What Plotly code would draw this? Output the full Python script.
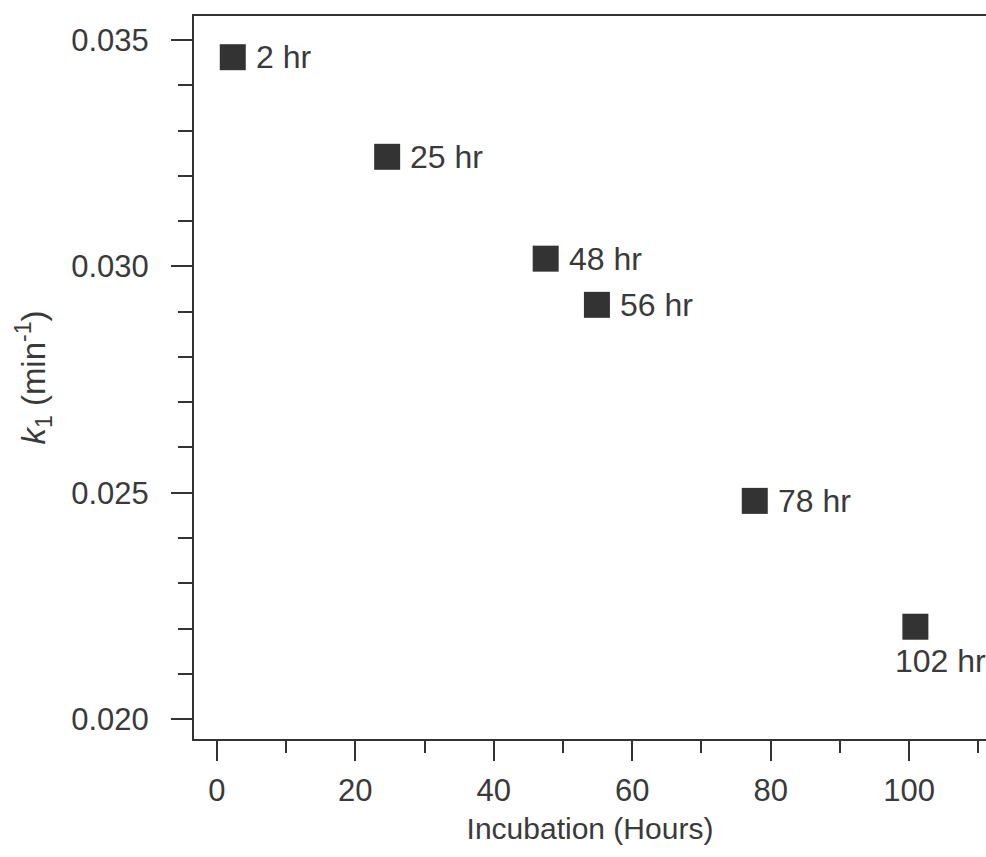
import plotly.graph_objects as go

hours = [2.3, 24.6, 47.5, 54.9, 77.7, 100.9]
k1 = [0.03462, 0.03242, 0.03017, 0.02915, 0.02482, 0.02204]
labels = ["2 hr", "25 hr", "48 hr", "56 hr", "78 hr", "102 hr"]
x_ticks = [0, 20, 40, 60, 80, 100]
y_ticks = [0.020, 0.025, 0.030, 0.035]

ink = "#333333"
text_color = "#3a3a3a"
font_family = "Liberation Sans, Arial, sans-serif"

fig = go.Figure()
fig.add_trace(go.Scatter(
    x=hours, y=k1, mode="markers",
    marker=dict(symbol="square", size=26, color=ink, line=dict(width=0)),
    cliponaxis=False, showlegend=False,
))

# point labels: right of marker, except last one below
for i, (xv, yv, lab) in enumerate(zip(hours, k1, labels)):
    last = i == len(labels) - 1
    fig.add_annotation(
        x=xv, y=yv, text=lab, showarrow=False,
        xanchor="left", yanchor="middle",
        xshift=-22 if last else 21, yshift=-34 if last else 0,
        font=dict(family=font_family, size=32, color=text_color),
    )

fig.update_layout(
    width=986, height=857,
    margin=dict(l=194, r=0, t=16, b=118),
    plot_bgcolor="white", paper_bgcolor="white",
    font=dict(family=font_family, color=text_color),
    xaxis=dict(
        range=[-3.3, 111.1], tickvals=x_ticks,
        ticks="outside", ticklen=20, tickwidth=2, tickcolor=ink,
        minor=dict(dtick=10, tick0=0, ticklen=12, tickwidth=2, tickcolor=ink, ticks="outside", showgrid=False),
        showline=True, linecolor=ink, linewidth=2, mirror=True,
        showgrid=False, zeroline=False,
        tickfont=dict(size=31), ticklabelstandoff=3,
        title=dict(text="Incubation (Hours)", font=dict(size=30), standoff=11),
    ),
    yaxis=dict(
        range=[0.01956, 0.03553], tickvals=y_ticks, tickformat=".3f",
        ticks="outside", ticklen=21, tickwidth=2, tickcolor=ink,
        minor=dict(dtick=0.001, tick0=0.020, ticklen=14, tickwidth=2, tickcolor=ink, ticks="outside", showgrid=False),
        showline=True, linecolor=ink, linewidth=2,
        showgrid=False, zeroline=False,
        tickfont=dict(size=31), ticklabelstandoff=16,
        title=dict(text="<i>k</i><sub>1</sub> (min<sup>-1</sup>)", font=dict(size=33), standoff=16),
    ),
)

fig.write_html("out.html")
